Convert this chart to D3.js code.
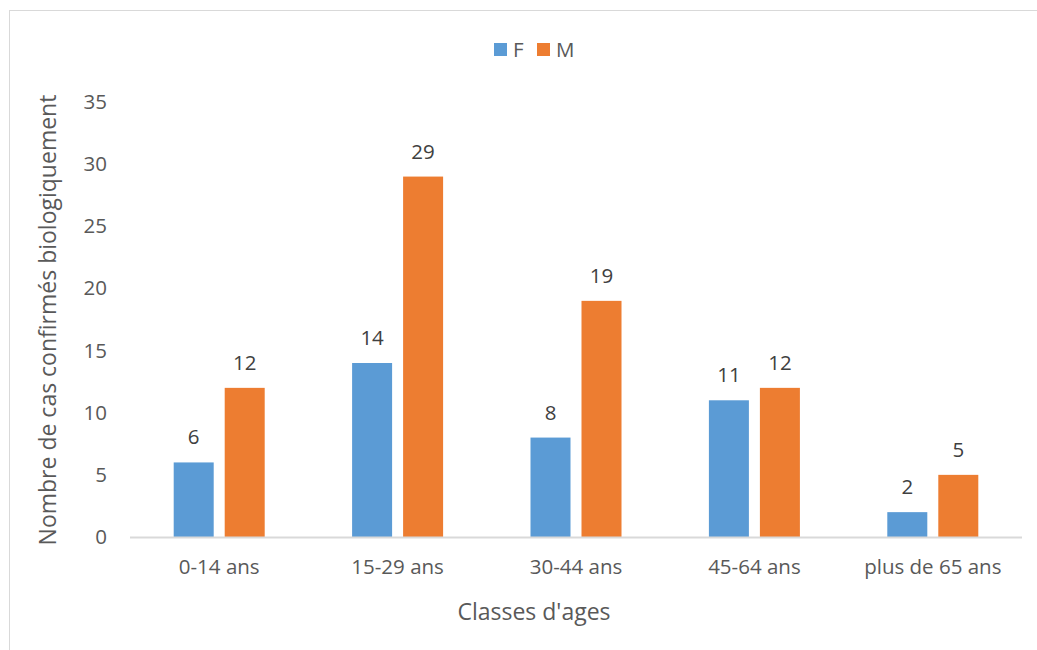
<!DOCTYPE html>
<html>
<head>
<meta charset="utf-8">
<script src="https://cdn.jsdelivr.net/npm/d3@7"></script>
<style>
  html, body { margin: 0; padding: 0; background: #fff; }
  svg { display: block; }
  text { font-family: "Open Sans", Lato, sans-serif; }
</style>
</head>
<body>
<svg id="chart" width="1037" height="650"></svg>
<script>
// Confirmed cases by age class and sex
const categories = ["0-14 ans", "15-29 ans", "30-44 ans", "45-64 ans", "plus de 65 ans"];
const seriesNames = ["F", "M"];
const valuesF = [6, 14, 8, 11, 2];
const valuesM = [12, 29, 19, 12, 5];
const yTicks = [0, 5, 10, 15, 20, 25, 30, 35];
const colors = ["#5B9BD5", "#ED7D31"];

const FONT = "'Open Sans', Lato, sans-serif";
const LABEL_SIZE = 20.5, TITLE_SIZE = 23;
const svg = d3.select("#chart");
const W = 1037, H = 650;

// chart frame
svg.append("rect")
  .attr("x", 9.5).attr("y", 10.5)
  .attr("width", W + 10).attr("height", H + 10)
  .attr("fill", "#fff").attr("stroke", "#d9d9d9").attr("stroke-width", 1);

const plot = { left: 130, right: 1022, top: 102, bottom: 537 };

const x0 = d3.scaleBand()
  .domain(categories)
  .range([plot.left, plot.right])
  .paddingInner(0).paddingOuter(0);

const barW = 40, barGap = 11;
const x1 = d3.scaleOrdinal().domain(seriesNames)
  .range([-(barW + barGap / 2), barGap / 2]);

const y = d3.scaleLinear().domain([0, 35]).range([plot.bottom, plot.top]);

const rows = categories.map((c, i) => ({ cat: c, vals: [valuesF[i], valuesM[i]] }));

// bars
const groups = svg.append("g").selectAll("g")
  .data(rows).join("g")
  .attr("transform", d => `translate(${x0(d.cat) + x0.bandwidth() / 2},0)`);

groups.selectAll("rect")
  .data(d => d.vals.map((v, j) => ({ s: seriesNames[j], v, j })))
  .join("rect")
  .attr("x", d => x1(d.s))
  .attr("y", d => y(d.v))
  .attr("width", barW)
  .attr("height", d => y(0) - y(d.v))
  .attr("fill", d => colors[d.j]);

// value labels
groups.selectAll("text.val")
  .data(d => d.vals.map((v, j) => ({ s: seriesNames[j], v, j })))
  .join("text")
  .attr("class", "val")
  .attr("x", d => x1(d.s) + barW / 2)
  .attr("y", d => y(d.v) - 18)
  .attr("text-anchor", "middle")
  .attr("font-size", LABEL_SIZE)
  .attr("fill", "#404040")
  .text(d => d.v);

// baseline
svg.append("line")
  .attr("x1", plot.left).attr("x2", plot.right)
  .attr("y1", y(0) + 0.5).attr("y2", y(0) + 0.5)
  .attr("stroke", "#d9d9d9").attr("stroke-width", 2);

// y axis (labels only)
const yAxis = d3.axisLeft(y).tickValues(yTicks).tickSize(0).tickPadding(0);
const gy = svg.append("g").attr("transform", `translate(${107},0)`).call(yAxis);
gy.select(".domain").remove();
gy.selectAll("text").attr("font-size", LABEL_SIZE).attr("fill", "#595959")
  .attr("font-family", FONT);

// x axis (labels only)
const xAxis = d3.axisBottom(x0).tickSize(0).tickPadding(0);
const gx = svg.append("g").attr("transform", `translate(0,${559})`).call(xAxis);
gx.select(".domain").remove();
gx.selectAll("text").attr("font-size", LABEL_SIZE).attr("fill", "#595959")
  .attr("font-family", FONT);

// axis titles
svg.append("text")
  .attr("x", 534).attr("y", 620)
  .attr("text-anchor", "middle")
  .attr("font-size", TITLE_SIZE).attr("fill", "#595959")
  .text("Classes d'ages");

svg.append("text")
  .attr("transform", `translate(56,320) rotate(-90)`)
  .attr("text-anchor", "middle")
  .attr("font-size", TITLE_SIZE).attr("fill", "#595959")
  .text("Nombre de cas confirmés biologiquement");

// legend
const legend = svg.append("g");
const legendX = [494, 537];
seriesNames.forEach((s, i) => {
  legend.append("rect")
    .attr("x", legendX[i]).attr("y", 43)
    .attr("width", 13).attr("height", 13)
    .attr("fill", colors[i]);
  legend.append("text")
    .attr("x", legendX[i] + 19).attr("y", 57)
    .attr("font-size", LABEL_SIZE).attr("fill", "#595959")
    .text(s);
});
</script>
</body>
</html>
